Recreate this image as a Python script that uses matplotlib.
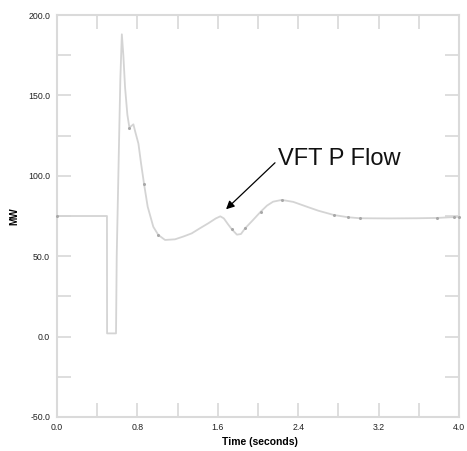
import matplotlib
matplotlib.use("Agg")
import matplotlib.pyplot as plt

# Data
time_s = [0.0, 0.497, 0.498, 0.587, 0.594, 0.62, 0.63, 0.645, 0.66, 0.677, 0.70,
          0.72, 0.74, 0.76, 0.78, 0.81, 0.836, 0.866, 0.902, 0.958, 1.008, 1.075,
          1.174, 1.26, 1.34, 1.42, 1.506, 1.58, 1.625, 1.66, 1.70, 1.74, 1.79,
          1.83, 1.871, 1.95, 2.027, 2.09, 2.15, 2.236, 2.35, 2.485, 2.6, 2.756,
          2.9, 3.015, 3.3, 3.58, 3.78, 4.0]
power_mw = [75, 75, 2, 2, 50, 130, 160, 188, 175, 155, 138,
            130, 131, 132, 127, 120, 107.8, 94.9, 80.8, 68.3, 63.2, 60.1,
            60.5, 62.3, 64.2, 67.3, 70.5, 73.5, 74.8, 73.5, 70, 66.7, 63.4,
            63.8, 67.3, 72.5, 77.7, 81.5, 83.9, 85, 83.8, 80.8, 78.3, 75.6,
            74.2, 73.6, 73.5, 73.6, 73.8, 74.5]

marker_t = [0.0, 0.72, 0.866, 1.008, 1.74, 1.871, 2.027, 2.236, 2.756, 2.9, 3.015, 3.78, 3.95, 4.0]
marker_v = [75, 130, 94.9, 63.2, 66.7, 67.3, 77.7, 85, 75.6, 74.2, 73.6, 73.8, 74.2, 74.5]

x_ticks = [0.0, 0.4, 0.8, 1.2, 1.6, 2.0, 2.4, 2.8, 3.2, 3.6, 4.0]
x_labels = ["0.0", "", "0.8", "", "1.6", "", "2.4", "", "3.2", "", "4.0"]
y_ticks = [-50, -25, 0, 25, 50, 75, 100, 125, 150, 175, 200]
y_labels = ["-50.0", "", "0.0", "", "50.0", "", "100.0", "", "150.0", "", "200.0"]

annot_text = "VFT P Flow"
annot_head = (1.682, 79.2)
annot_tail = (2.169, 108.1)
annot_text_pos = (2.199, 106.7)

plt.rcParams['font.family'] = ['Liberation Sans', 'DejaVu Sans']

fig = plt.figure(figsize=(4.67, 4.51), dpi=100)
ax = fig.add_axes([0.1221, 0.0754, 0.8608, 0.8913])

ax.plot(time_s, power_mw, color="#d4d4d4", lw=1.3, zorder=2)
ax.plot(marker_t, marker_v, ls="none", marker="o", ms=2.2, color="#a8a8a8",
        mec="none", zorder=3, clip_on=False)

ax.set_xlim(0, 4.0)
ax.set_ylim(-50, 200)
ax.set_xticks(x_ticks)
ax.set_xticklabels(x_labels)
ax.set_yticks(y_ticks)
ax.set_yticklabels(y_labels)

ax.tick_params(axis="both", direction="in", length=10, width=1.2, color="#d8d8d8",
               top=True, right=True, labelsize=6.3, labelcolor="#222222")
ax.tick_params(axis="x", pad=4.5)
ax.tick_params(axis="y", pad=5)
for sp in ax.spines.values():
    sp.set_color("#dadada")
    sp.set_linewidth(1.5)

ax.set_xlabel("Time (seconds)", fontsize=7.5, fontweight="bold")
ax.set_ylabel("MW", fontsize=7.2, fontweight="bold")
# place labels like the reference (in pixels converted to axes fraction)
ax.xaxis.set_label_coords((260 - 57) / 402, (417 - 442) / 402)
ax.yaxis.set_label_coords((14 - 57) / 402, (417 - 216) / 402)
ax.xaxis.label.set_va("center")
ax.yaxis.label.set_va("center")

ax.text(annot_text_pos[0], annot_text_pos[1], annot_text, fontsize=17,
        color="#111111", ha="left", va="baseline")
ax.annotate("", xy=annot_head, xytext=annot_tail,
            arrowprops=dict(arrowstyle="-|>", color="black", lw=0.9,
                            mutation_scale=12, shrinkA=0, shrinkB=0))

fig.savefig("out.png", dpi=100)
